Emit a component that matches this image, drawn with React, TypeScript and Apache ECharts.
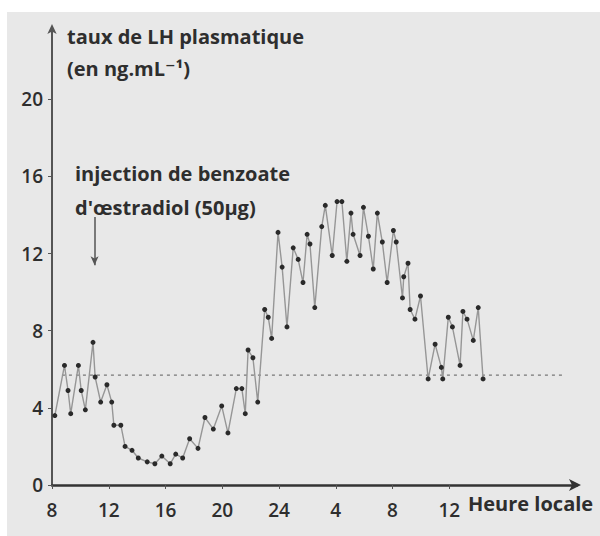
import React, { useEffect, useRef } from "react";
import * as echarts from "echarts";

// hours elapsed since 8 h (day 1)
const hours = [0.2, 0.88, 1.13, 1.32, 1.86, 2.06, 2.35, 2.89, 3.04, 3.43, 3.87, 4.21, 4.36, 4.85, 5.15, 5.64, 6.08, 6.71, 7.25, 7.74, 8.33, 8.72, 9.21, 9.7, 10.29, 10.78, 11.37, 11.96, 12.4, 12.99, 13.38, 13.62, 13.82, 14.16, 14.5, 14.99, 15.24, 15.48, 15.93, 16.22, 16.56, 17.0, 17.35, 17.69, 17.98, 18.18, 18.52, 19.01, 19.26, 19.75, 20.09, 20.43, 20.78, 21.07, 21.22, 21.71, 21.95, 22.3, 22.64, 22.93, 23.28, 23.62, 24.06, 24.26, 24.7, 24.79, 25.09, 25.24, 25.58, 25.97, 26.51, 27.0, 27.44, 27.54, 27.93, 28.22, 28.76, 28.96, 29.25, 29.69, 30.04, 30.38];
const lhValues = [3.6, 6.2, 4.9, 3.7, 6.2, 4.9, 3.9, 7.4, 5.6, 4.3, 5.2, 4.3, 3.1, 3.1, 2.0, 1.8, 1.4, 1.2, 1.1, 1.5, 1.1, 1.6, 1.4, 2.4, 1.9, 3.5, 2.9, 4.1, 2.7, 5.0, 5.0, 3.7, 7.0, 6.6, 4.3, 9.1, 8.7, 7.6, 13.1, 11.3, 8.2, 12.3, 11.7, 10.5, 13.0, 12.5, 9.2, 13.4, 14.5, 11.9, 14.7, 14.7, 11.6, 14.1, 13.0, 11.9, 14.4, 12.9, 11.2, 14.1, 12.6, 10.5, 13.2, 12.6, 9.7, 10.8, 11.5, 9.1, 8.6, 9.8, 5.5, 7.3, 6.1, 5.5, 8.7, 8.2, 6.2, 9.0, 8.6, 7.5, 9.2, 5.5];

const xTicks = [0, 4, 8, 12, 16, 20, 24, 28];
const yTicks = [0, 4, 8, 12, 16, 20];
const baselineHours = [0.7, 36.2];
const baselineLevel = 5.7;
const injectionHour = 3.0;
const injectionArrow = [13.9, 11.4];

const clockLabel = (v: number) => {
  const h = 8 + v;
  return String(h > 24 ? h - 24 : h);
};

export default function App() {
  const ref = useRef<HTMLDivElement>(null);
  useEffect(() => {
    if (!ref.current) return;
    const chart = echarts.init(ref.current, null, { renderer: "svg" });
    const font = "'Open Sans', 'DejaVu Sans', sans-serif";
    const txt = "#2e2e2e";
    const label = (text: string, x: number, y: number) => ({
      type: "text",
      x,
      y,
      style: { text, font: `bold 20px ${font}`, fill: txt, verticalAlign: "middle" },
    });
    chart.setOption({
      animation: false,
      backgroundColor: "#ffffff",
      graphic: [
        { type: "rect", z: -10, shape: { x: 7, y: 12, width: 593, height: 524 }, style: { fill: "#e8e8e8" } },
        label("taux de LH plasmatique", 67, 36),
        label("(en ng.mL⁻¹)", 67, 68),
        label("injection de benzoate", 75, 173),
        label("d'œstradiol (50µg)", 75, 207),
        label("Heure locale", 468, 503),
      ],
      grid: { left: 52, right: 23, top: 28, bottom: 51, containLabel: false },
      xAxis: {
        type: "value",
        min: 0,
        max: 37,
        interval: 4,
        axisLine: { show: true, lineStyle: { color: "#333", width: 2.5 }, symbol: ["none", "arrow"], symbolSize: [9, 12], symbolOffset: [0, 4] },
        axisTick: { show: true, length: 4, lineStyle: { color: "#555" }, customValues: xTicks },
        axisLabel: { customValues: xTicks, formatter: clockLabel, margin: 15, fontSize: 19, fontWeight: 600, fontFamily: font, color: txt },
        splitLine: { show: false },
      },
      yAxis: {
        type: "value",
        min: 0,
        max: 23.7,
        interval: 4,
        axisLine: { show: true, lineStyle: { color: "#555", width: 2 }, symbol: ["none", "arrow"], symbolSize: [7, 10], symbolOffset: [0, 4] },
        axisTick: { show: true, length: 4, lineStyle: { color: "#555" }, customValues: yTicks },
        axisLabel: { customValues: yTicks, margin: 9, fontSize: 19, fontWeight: 600, fontFamily: font, color: txt },
        splitLine: { show: false },
      },
      series: [
        {
          type: "line",
          data: hours.map((h, i) => [h, lhValues[i]]),
          symbol: "circle",
          symbolSize: 5,
          itemStyle: { color: "#2a2a2a" },
          lineStyle: { color: "#969696", width: 1.4 },
          z: 3,
          markLine: {
            silent: true,
            symbol: ["none", "arrow"],
            symbolSize: [6, 9],
            label: { show: false },
            lineStyle: { color: "#555", width: 1.5, type: "solid" },
            data: [[{ coord: [injectionHour, injectionArrow[0]] }, { coord: [injectionHour, injectionArrow[1]] }]],
          },
        },
        {
          type: "line",
          data: baselineHours.map((h) => [h, baselineLevel]),
          symbol: "none",
          lineStyle: { color: "#777", width: 1.2, type: [3, 4] },
          z: 2,
        },
      ],
    });
    return () => chart.dispose();
  }, []);
  return <div ref={ref} style={{ position: "fixed", left: 0, top: 0, width: 600, height: 536 }} />;
}
